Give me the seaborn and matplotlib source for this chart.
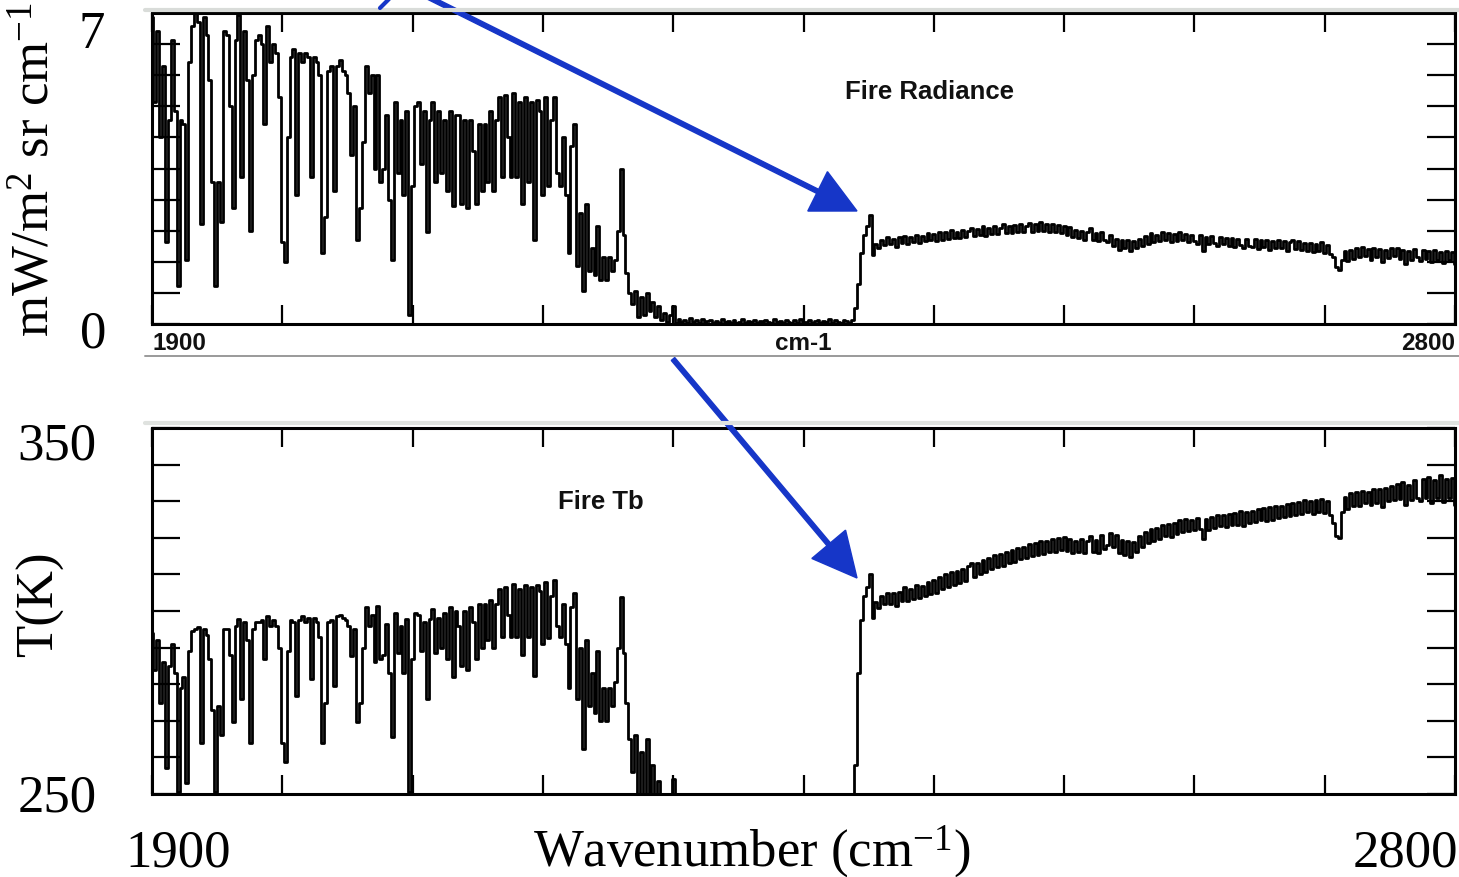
import numpy as np
import pandas as pd
import matplotlib
matplotlib.use("Agg")
import matplotlib.pyplot as plt
import seaborn as sns
from matplotlib.patches import FancyArrow
from matplotlib.lines import Line2D
from matplotlib.transforms import Affine2D

# ---------------------------------------------------------------- data
# spectral grid (cm-1), 2 cm-1 spacing
wavenumber = np.arange(1900, 2801, 2)

# fire radiance, mW/m2 sr cm-1
radiance = [
    6.9, 5.0, 6.6, 4.2, 5.8, 1.85, 4.6, 6.4, 4.8, 0.85,
    4.6, 4.5, 1.45, 5.9, 6.7, 7.0, 6.8, 2.25, 6.9, 6.5,
    5.5, 3.2, 0.86, 3.2, 2.3, 6.6, 6.5, 4.9, 2.6, 6.4,
    6.95, 3.3, 6.6, 5.5, 2.1, 5.6, 6.4, 6.5, 6.3, 4.5,
    6.7, 5.9, 6.3, 6.1, 5.1, 1.85, 1.4, 4.2, 6.0, 6.2,
    2.9, 6.1, 5.9, 6.1, 6.0, 3.3, 6.0, 5.9, 5.6, 1.6,
    2.4, 5.7, 5.8, 3.0, 5.8, 5.95, 5.7, 5.6, 5.2, 3.8,
    4.9, 1.9, 2.6, 4.1, 5.8, 5.2, 5.6, 3.5, 5.6, 3.2,
    3.5, 4.7, 2.8, 1.45, 5.0, 3.4, 4.6, 2.9, 4.8, 0.2,
    3.1, 4.9, 5.0, 3.6, 4.8, 2.07, 4.6, 5.0, 3.2, 4.8,
    3.4, 4.6, 3.0, 4.8, 2.65, 4.7, 4.7, 2.7, 4.6, 2.6,
    4.6, 3.9, 2.7, 4.5, 3.0, 4.5, 3.2, 4.8, 3.0, 4.6,
    5.1, 3.3, 5.15, 4.2, 3.3, 5.2, 3.3, 5.0, 2.7, 5.1,
    3.2, 5.0, 1.9, 5.05, 4.8, 2.9, 5.1, 3.1, 4.6, 5.1,
    3.4, 3.1, 4.2, 2.9, 1.6, 4.0, 4.5, 1.3, 2.5, 0.75,
    2.7, 1.2, 1.7, 1.1, 2.2, 1.0, 1.5, 1.0, 1.5, 1.2,
    1.45, 2.1, 3.5, 2.0, 1.15, 0.7, 0.45, 0.75, 0.15, 0.6,
    0.2, 0.7, 0.3, 0.5, 0.15, 0.4, 0.1, 0.25, 0.05, 0.2,
    0.4, 0.03, 0.12, 0.05, 0.1, 0.02, 0.13, 0.04, 0.08, 0.03,
    0.11, 0.02, 0.06, 0.1, 0.03, 0.07, 0.02, 0.12, 0.04, 0.06,
    0.02, 0.09, 0.03, 0.05, 0.11, 0.02, 0.07, 0.04, 0.1, 0.03,
    0.06, 0.02, 0.09, 0.05, 0.03, 0.12, 0.04, 0.07, 0.02, 0.1,
    0.05, 0.03, 0.08, 0.02, 0.11, 0.05, 0.04, 0.09, 0.02, 0.06,
    0.1, 0.03, 0.07, 0.04, 0.12, 0.02, 0.08, 0.05, 0.03, 0.1,
    0.06, 0.03, 0.1, 0.35, 0.9, 1.6, 2.0, 2.2, 2.45, 1.55,
    1.8, 1.7, 1.9, 1.78, 1.95, 1.8, 1.92, 1.74, 1.96, 1.82,
    1.98, 1.8, 1.95, 1.84, 2.0, 1.82, 1.98, 1.86, 2.04, 1.88,
    2.02, 1.86, 2.06, 1.9, 2.08, 1.92, 2.12, 1.94, 2.08, 1.93,
    2.12, 1.95, 2.1, 2.16, 1.97, 2.14, 2.0, 2.2, 1.98, 2.15,
    2.02, 2.2, 2.03, 2.16, 2.24, 2.04, 2.2, 2.05, 2.23, 2.06,
    2.25, 2.07, 2.2, 2.28, 2.08, 2.26, 2.1, 2.3, 2.09, 2.24,
    2.08, 2.26, 2.06, 2.22, 2.04, 2.2, 2.0, 2.18, 1.96, 2.12,
    1.94, 2.1, 1.9, 2.06, 2.16, 1.88, 2.04, 1.86, 2.08, 1.9,
    1.84, 2.01, 1.76, 1.92, 1.66, 1.88, 1.7, 1.9, 1.65, 1.86,
    1.72, 1.92, 1.76, 1.98, 1.8, 2.04, 1.84, 2.01, 1.86, 2.06,
    1.88, 2.04, 1.84, 2.02, 1.86, 2.08, 1.88, 2.03, 1.84, 2.01,
    1.86, 1.8, 2.0, 1.64, 1.96, 1.8, 1.98, 1.82, 1.76, 1.96,
    1.8, 1.94, 1.75, 1.93, 1.73, 1.92, 1.77, 1.7, 1.91, 1.75,
    1.73, 1.92, 1.69, 1.88, 1.73, 1.9, 1.67, 1.86, 1.71, 1.89,
    1.7, 1.86, 1.65, 1.84, 1.88, 1.69, 1.86, 1.67, 1.83, 1.65,
    1.82, 1.63, 1.8, 1.65, 1.84, 1.6, 1.78, 1.57, 1.5, 1.28,
    1.22, 1.45, 1.64, 1.41, 1.66, 1.47, 1.7, 1.5, 1.74, 1.53,
    1.68, 1.45, 1.72, 1.51, 1.68, 1.4, 1.66, 1.49, 1.72, 1.53,
    1.7, 1.47, 1.66, 1.35, 1.64, 1.45, 1.68, 1.5, 1.42, 1.66,
    1.46, 1.64, 1.4, 1.66, 1.45, 1.62, 1.37, 1.64, 1.45, 1.61,
    1.35,
]

# fire brightness temperature, K
brightness_temp = [
    294, 284, 292, 275, 286, 257, 285, 291, 283, 250.5,
    279, 282, 253, 289, 294.5, 295, 295.5, 264, 295, 293.5,
    287, 273, 250.5, 274, 266, 295, 295, 288, 269.7, 296,
    297.8, 276, 297, 292, 264, 295, 297, 297, 297.5, 287,
    298.5, 296, 297.5, 296, 290, 264, 258.7, 289, 297.5, 297,
    276.8, 297.5, 298.5, 297, 298, 281.4, 298, 297, 293, 264,
    275, 297, 297.5, 279.6, 298.5, 299, 298, 297.5, 296, 287.8,
    295, 269.6, 275, 290, 301, 296, 299, 286, 301.4, 287,
    288, 296.5, 283, 265.5, 299.5, 288.5, 296, 283, 297.8, 250.5,
    287, 299.5, 299, 289, 297, 276, 297.8, 300.5, 288.5, 298,
    290, 299.5, 287, 301, 282, 300, 296, 285, 300, 284,
    301, 297, 287, 302, 290, 302, 292, 303, 290, 302,
    306, 293, 306.5, 299, 293, 307.5, 293, 306, 288, 307,
    293, 306.5, 282.3, 307, 305.5, 291, 308, 292.5, 304, 308.5,
    296, 293, 302, 291, 279, 301, 305, 276, 290, 262.3,
    292, 274, 283, 272, 289, 270, 279, 270, 279, 274,
    280.6, 290, 303.7, 288.4, 275, 265, 256, 266, 235, 261.6,
    240, 265, 248, 258, 235, 253.5, 229, 244.5, 220, 240,
    254, 212, 233, 220, 229, 208, 234, 216, 226, 212,
    231, 208, 222, 229, 212, 225, 208, 233, 216, 222,
    208, 229, 212, 219, 231, 208, 225, 216, 229, 212,
    222, 208, 229, 219, 212, 233, 216, 225, 208, 229,
    219, 212, 226, 208, 231, 219, 216, 229, 208, 222,
    230, 213, 226, 217, 234, 209, 227, 220, 214, 231,
    223, 214, 229, 258, 283, 297.5, 304, 306.5, 310, 298,
    302.4, 300.8, 304, 301.8, 305, 302, 304.8, 301.4, 305.3, 302.6,
    306.5, 302.8, 306, 303.4, 307, 303.5, 306.8, 304, 307.8, 304.6,
    308.4, 305, 309.2, 306, 310, 306.6, 310.6, 307.2, 311, 307.6,
    311.6, 308.2, 312.2, 313, 309.2, 313.2, 310.2, 314, 310.6, 314.4,
    311.6, 315.2, 312, 315.6, 312.4, 316.2, 313, 316.6, 313.4, 317.2,
    314.2, 317.6, 314.6, 318.2, 315, 318.6, 315.4, 319, 315.6, 319.2,
    316, 319.6, 316.2, 320, 316.6, 320.2, 316.4, 319.8, 315.8, 319.2,
    316.2, 319.6, 315.8, 319.2, 320.6, 316, 319.4, 315.8, 320.8, 317,
    318, 321.4, 317.4, 320.8, 315.8, 319.4, 315.4, 319, 314.8, 318.8,
    316, 320.4, 317.4, 321.6, 318.6, 322.4, 319.2, 322.8, 319.8, 323.4,
    320.4, 323.8, 320.2, 324, 321, 325, 321.6, 325.2, 321.8, 324.8,
    322, 325.4, 322.4, 319.6, 325.2, 322.2, 325.8, 322.6, 326.2, 323.2,
    326.2, 323, 326.6, 323.4, 326.8, 323.6, 327.2, 323.2, 327, 324,
    327.2, 324.2, 327.8, 324.8, 328.2, 324.6, 328.4, 325, 328.6, 325.4,
    328.8, 325.8, 329.2, 326, 329.6, 326.2, 329.8, 326.6, 330.2, 327,
    330, 326.6, 330.4, 327, 330.6, 326.8, 330, 326.2, 324, 320.6,
    320, 327, 331.2, 328, 332.2, 328.6, 332.4, 328.8, 332.8, 329.4,
    332.6, 329, 333.2, 329.6, 333.4, 328.4, 333.6, 330, 334.2, 330.4,
    334.6, 330.6, 335.2, 329, 334.4, 330.4, 335.8, 331, 330, 336.2,
    331, 336.6, 329.6, 335.8, 331, 337.2, 329.8, 336, 331, 336.4,
    329,
]

rad_df = pd.DataFrame({"wavenumber": wavenumber, "radiance": radiance})
tb_df = pd.DataFrame({"wavenumber": wavenumber, "tb": brightness_temp})

# ---------------------------------------------------------------- figure
W, H = 1459, 878
sns.set_theme(style="white")
plt.rcParams["font.family"] = ["Liberation Serif", "DejaVu Serif"]
plt.rcParams["mathtext.fontset"] = "custom"
plt.rcParams["mathtext.rm"] = "Liberation Serif"
plt.rcParams["mathtext.it"] = "Liberation Serif:italic"
plt.rcParams["mathtext.bf"] = "Liberation Serif:bold"

fig = plt.figure(figsize=(W / 100, H / 100), dpi=100)
fig.patch.set_facecolor("white")

# pixel coordinates (origin top-left) -> figure artists
pix = Affine2D().scale(1 / W, -1 / H).translate(0, 1) + fig.transFigure


def fpos(x, y):
    return x / W, 1 - y / H


ax_rad = fig.add_axes([152 / W, 1 - 325 / H, 1303 / W, 311 / H])
ax_tb = fig.add_axes([152 / W, 1 - 795 / H, 1303 / W, 366 / H])

trace = dict(color="black", linewidth=2.0, drawstyle="steps-mid",
             estimator=None, legend=False)
sns.lineplot(data=rad_df, x="wavenumber", y="radiance", ax=ax_rad, **trace)
sns.lineplot(data=tb_df, x="wavenumber", y="tb", ax=ax_tb, **trace)

x_ticks = np.arange(1900, 2801, 90)


def frame(ax, ylo, yhi):
    ax.set_xlim(1900, 2800)
    ax.set_ylim(ylo, yhi)
    ax.set_xticks(x_ticks)
    ax.set_yticks(np.linspace(ylo, yhi, 11))
    ax.tick_params(axis="x", direction="in", length=14, width=1.6,
                   colors="black", top=True, bottom=True,
                   labelbottom=False, labeltop=False)
    ax.tick_params(axis="y", direction="in", length=20, width=1.6,
                   colors="black", left=True, right=True,
                   labelleft=False, labelright=False)
    for sp in ax.spines.values():
        sp.set_color("black")
        sp.set_linewidth(2.2)
    ax.set_xlabel("")
    ax.set_ylabel("")
    ax.grid(False)
    ax.set_facecolor("white")


frame(ax_rad, 0, 7)
frame(ax_tb, 250, 350)

# light frame edges of the two plot windows
fig.add_artist(Line2D([145, W], [11, 11], color="#d9dcd9", lw=3, transform=pix))
fig.add_artist(Line2D([145, W], [357, 357], color="#9a9a9a", lw=1.4, transform=pix))
fig.add_artist(Line2D([145, W], [424, 424], color="#dfe2df", lw=3, transform=pix))

# ---------------------------------------------------------------- text
serif = dict(family="Liberation Serif", color="black", fontsize=38)
fig.text(*fpos(92, 48), "7", ha="center", va="baseline", **serif)
fig.text(*fpos(93, 348), "0", ha="center", va="baseline", **serif)
fig.text(*fpos(57, 460), "350", ha="center", va="baseline", **serif)
fig.text(*fpos(57, 812), "250", ha="center", va="baseline", **serif)
fig.text(*fpos(178, 867), "1900", ha="center", va="baseline", **serif)
fig.text(*fpos(1405, 867), "2800", ha="center", va="baseline", **serif)
fig.text(*fpos(752, 866), r"Wavenumber (cm$^{-1}$)", ha="center", va="baseline", **serif)
fig.text(*fpos(40, 604), "T(K)", rotation=90, ha="center", va="center", **serif)
fig.text(*fpos(36, 170), r"mW/m$^2$ sr cm$^{-1}$", rotation=90,
         ha="center", va="center", **serif)

sans = dict(family="Liberation Sans", fontweight="bold", color="#111111")
fig.text(*fpos(930, 92), "Fire Radiance", ha="center", va="center", fontsize=18.5, **sans)
fig.text(*fpos(601, 502), "Fire Tb", ha="center", va="center", fontsize=18.5, **sans)
fig.text(*fpos(153, 343), "1900", ha="left", va="center", fontsize=17.5, **sans)
fig.text(*fpos(803, 343), "cm-1", ha="center", va="center", fontsize=17.5, **sans)
fig.text(*fpos(1455, 343), "2800", ha="right", va="center", fontsize=17.5, **sans)

# ---------------------------------------------------------------- arrows
blue = "#1636c8"
for (x0, y0), (x1, y1) in [((428, -2), (857, 212)), ((673, 360), (857, 579))]:
    fig.add_artist(FancyArrow(x0, y0, x1 - x0, y1 - y0, width=4.5,
                              head_width=44, head_length=44,
                              length_includes_head=True, color=blue,
                              transform=pix, clip_on=False))
fig.add_artist(Line2D([390, 380], [-1, 9], color=blue, lw=3, transform=pix))

fig.savefig("out.png", dpi=100, facecolor="white")
